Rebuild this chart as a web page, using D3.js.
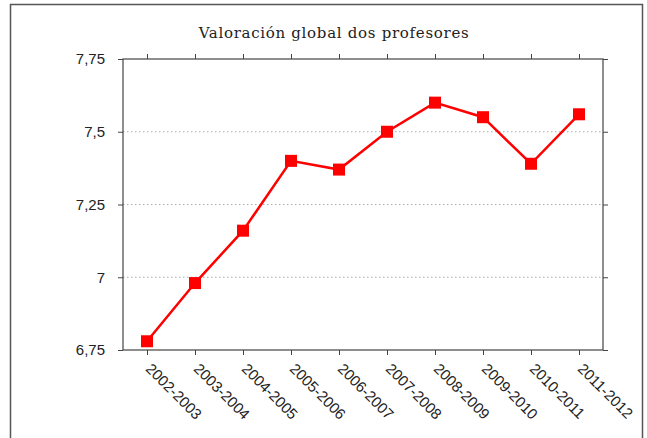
<!DOCTYPE html>
<meta charset="utf-8">
<script src="https://d3js.org/d3.v7.min.js"></script>
<style>
  body { margin: 0; background: #fff; }
</style>
<div id="chart"></div>
<script>
// data
var years = ["2002-2003","2003-2004","2004-2005","2005-2006","2006-2007",
             "2007-2008","2008-2009","2009-2010","2010-2011","2011-2012"];
var scores = [6.78, 6.98, 7.16, 7.40, 7.37, 7.50, 7.60, 7.55, 7.39, 7.56];
var yTicks = [6.75, 7, 7.25, 7.5, 7.75];
var title = "Valoración global dos profesores";

var W = 647, H = 438;
var margin = {top: 59, right: 44, bottom: 88, left: 123};
var width = W - margin.left - margin.right,
    height = H - margin.top - margin.bottom;

var svg = d3.select("#chart").append("svg")
    .attr("width", W).attr("height", H);

// outer frame
svg.append("rect")
    .attr("x", 10.5).attr("y", 4.5)
    .attr("width", 632).attr("height", 450)
    .attr("fill", "none").attr("stroke", "#555").attr("stroke-width", 1.5);

svg.append("text")
    .attr("x", 334).attr("y", 38)
    .attr("text-anchor", "middle")
    .style("font-family", "'DejaVu Serif', serif")
    .style("font-size", "15px")
    .style("letter-spacing", "0.7px")
    .attr("fill", "#222")
    .text(title);

var g = svg.append("g")
    .attr("transform", "translate(" + margin.left + "," + margin.top + ")");

var x = d3.scalePoint().domain(years).range([0, width]).padding(0.5);
var y = d3.scaleLinear().domain([6.75, 7.75]).range([height, 0]);

var fmt = function(d) { return String(d).replace(".", ","); };

// grid
g.append("g").selectAll("line")
  .data(yTicks.filter(function(d) { return d > 6.75 && d < 7.75; }))
  .enter().append("line")
    .attr("x1", 0).attr("x2", width)
    .attr("y1", function(d) { return y(d); })
    .attr("y2", function(d) { return y(d); })
    .attr("stroke", "#aaa").attr("stroke-dasharray", "1.5,2.5");

function styleAxis(sel) {
  sel.select(".domain").remove();
  sel.selectAll(".tick line").attr("stroke", "#444");
}

var axL = g.append("g")
    .call(d3.axisLeft(y).tickValues(yTicks).tickSize(5).tickPadding(13).tickFormat(fmt));
styleAxis(axL);
axL.selectAll("text").style("font-family", "'Liberation Sans', Arial, sans-serif")
   .style("font-size", "15px").attr("fill", "#222");

var axR = g.append("g").attr("transform", "translate(" + width + ",0)")
    .call(d3.axisRight(y).tickValues(yTicks).tickSize(5).tickFormat(""));
styleAxis(axR);

var axT = g.append("g")
    .call(d3.axisTop(x).tickSize(5).tickFormat(""));
styleAxis(axT);

var axB = g.append("g").attr("transform", "translate(0," + height + ")")
    .call(d3.axisBottom(x).tickSize(5));
styleAxis(axB);
axB.selectAll("text")
    .style("font-family", "'Liberation Sans', Arial, sans-serif")
    .style("font-size", "15px").attr("fill", "#222")
    .attr("text-anchor", "start")
    .attr("y", 0)
    .attr("dy", "0.35em")
    .attr("transform", "translate(1,16) rotate(45)");

// frame of plot
g.append("rect").attr("width", width).attr("height", height)
    .attr("fill", "none").attr("stroke", "#444").attr("stroke-width", 1.2);

// line
g.append("path").datum(scores)
    .attr("fill", "none").attr("stroke", "#ff0000").attr("stroke-width", 2.5)
    .attr("d", d3.line()
      .x(function(d, i) { return x(years[i]); })
      .y(function(d) { return y(d); }));

g.selectAll(".pt").data(scores).enter().append("rect")
    .attr("x", function(d, i) { return x(years[i]) - 6; })
    .attr("y", function(d) { return y(d) - 6; })
    .attr("width", 12).attr("height", 12)
    .attr("fill", "#ff0000");
</script>
